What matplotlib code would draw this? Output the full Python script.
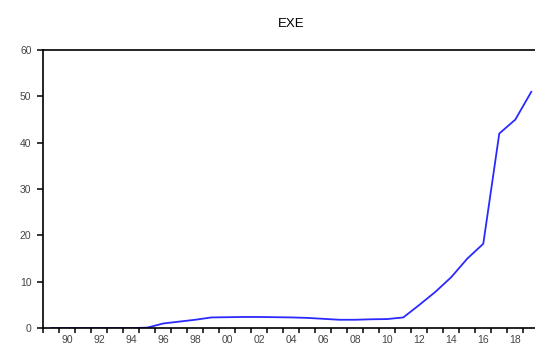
import numpy as np
import matplotlib; matplotlib.use('Agg')
import matplotlib.pyplot as plt
from matplotlib.ticker import FixedLocator, NullFormatter

plt.rcParams['font.family'] = ['Liberation Sans', 'DejaVu Sans']

# annual series, EViews-style plot
YEARS = list(range(1989, 2020))
EXE = [0.0, 0.0, 0.0, 0.0, 0.0, 0.0, 0.1,           # 1989-1995
       1.0, 1.4, 1.8, 2.3, 2.35, 2.4, 2.4, 2.35,     # 1996-2003
       2.3, 2.2, 2.0, 1.8, 1.8, 1.9, 1.95,           # 2004-2010
       2.3, 5.0, 7.8, 11.0, 15.0, 18.2, 42.0, 45.0, 51.0]  # 2011-2019
LABEL_YEARS = list(range(1990, 2019, 2))
YTICKS = [0, 10, 20, 30, 40, 50, 60]

fig = plt.figure(figsize=(5.35, 3.47), dpi=100)
ax = fig.add_axes([0.081, 0.0545, 0.927, 0.801])

x = np.array(YEARS) + 0.5   # observation drawn mid-period
ax.plot(x, EXE, color='#2a2aff', lw=1.3)

ax.set_xlim(1989, 2020)
ax.set_ylim(0, 60)
ax.set_yticks(YTICKS)
ax.xaxis.set_major_locator(FixedLocator(np.arange(1989, 2021)))
ax.xaxis.set_major_formatter(NullFormatter())
ax.xaxis.set_minor_locator(FixedLocator(np.array(LABEL_YEARS) + 0.5))
ax.set_xticklabels(['%02d' % (y % 100) for y in LABEL_YEARS], minor=True)
ax.tick_params(axis='x', which='major', direction='out', length=3.6, width=1.1)
ax.tick_params(axis='x', which='minor', length=0, pad=5, labelsize=7.5, labelcolor='#444444')
ax.tick_params(axis='y', direction='out', length=4.5, width=1.1, pad=4,
               labelsize=7.5, labelcolor='#444444')

for s in ['left', 'bottom', 'top']:
    ax.spines[s].set_linewidth(1.2)
ax.spines['right'].set_visible(False)

ax.set_title('EXE', fontsize=9.5, pad=17)

fig.savefig('out.png', dpi=100)
